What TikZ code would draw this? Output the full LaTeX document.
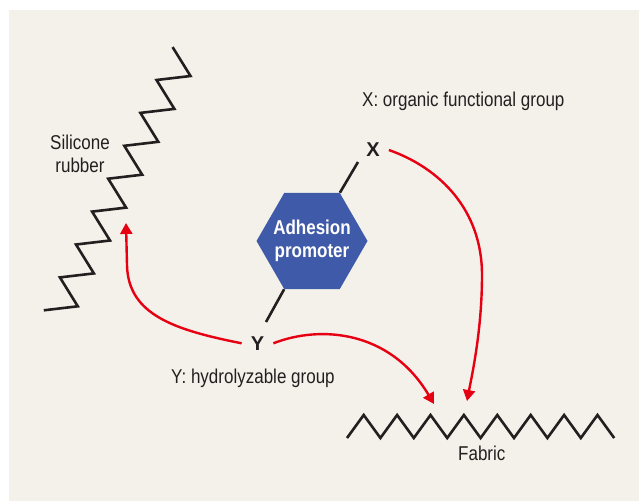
\documentclass[tikz,border=0pt]{standalone}
\usepackage{fontspec}
\setmainfont{Liberation Sans}
\newfontfamily\condfont[FakeStretch=0.85]{Liberation Sans}
\usetikzlibrary{arrows.meta,shapes.geometric}

\definecolor{paper}{HTML}{F4F1EA}
\definecolor{inkgray}{HTML}{231F20}
\definecolor{promblue}{HTML}{3F5AA8}
\definecolor{arrowred}{HTML}{E60012}

\begin{document}
\begin{tikzpicture}[x=1pt,y=-1pt,
    lbl/.style={font=\condfont\fontsize{20}{23}\selectfont, text=inkgray, inner sep=0pt},
    grp/.style={font=\bfseries\fontsize{20}{23}\selectfont, text=inkgray, inner xsep=9pt, inner ysep=2pt},
    hexa/.style={regular polygon, regular polygon sides=6, minimum size=111pt, inner sep=-12pt,
                 fill=promblue, text=white, align=center, font=\condfont\bfseries\fontsize{20}{23}\selectfont},
    bond/.style={draw=inkgray, line width=2.6pt},
    link/.style={draw=arrowred, line width=2.4pt, -{Triangle[length=11pt,width=12pt]}}]

      \useasboundingbox (0,0) rectangle (639,501);

      % background
      \fill[paper] (9,10) rectangle (639,501);

      % silicone rubber chain
      \draw[bond] (172.6,47.1) \foreach \k in {0,...,7} { -- ++(17.9,28.9) -- ++(-34,4) };
      \node[lbl, align=center] (rubberlbl) at (80,154) {Silicone\\rubber};

      % fabric chain
      \draw[bond] (347,438) \foreach \k in {1,...,8} { -- ++(16.7,-23) -- ++(16.7,23) };
      \node[lbl, anchor=base west] (fabriclbl) at (458,460) {Fabric};

      % adhesion promoter and its groups
      \node[hexa] (promoter) at (312,241) {Adhesion\\promoter};
      \node[grp] (xgrp) at (373,150) {X};
      \node[grp] (ygrp) at (257.5,343.3) {Y};
      \coordinate (xbond) at (358,162);
      \coordinate (ybond) at (266,322);
      \draw[bond] (promoter.60) -- (xbond);
      \draw[bond] (promoter.240) -- (ybond);

      \node[lbl, anchor=base west] (xlbl) at (362,106) {X: organic functional group};
      \node[lbl, anchor=base west] (ylbl) at (171,383) {Y: hydrolyzable group};

      % arrows
      \coordinate (rubbertip) at (126,223);
      \coordinate (fabtipy) at (434,404);
      \coordinate (fabtipx) at (467,401);
      \draw[link] (ygrp.west) .. controls (175,330) and (128,315) .. (127,265) -- (rubbertip);
      \draw[link] (ygrp.east) .. controls (320,325) and (390,330) .. (fabtipy);
      \draw[link] (xgrp.east) .. controls (440,168) and (482,210) .. (482,275)
                  .. controls (482,330) and (472,375) .. (fabtipx);

    \end{tikzpicture}
\end{document}
